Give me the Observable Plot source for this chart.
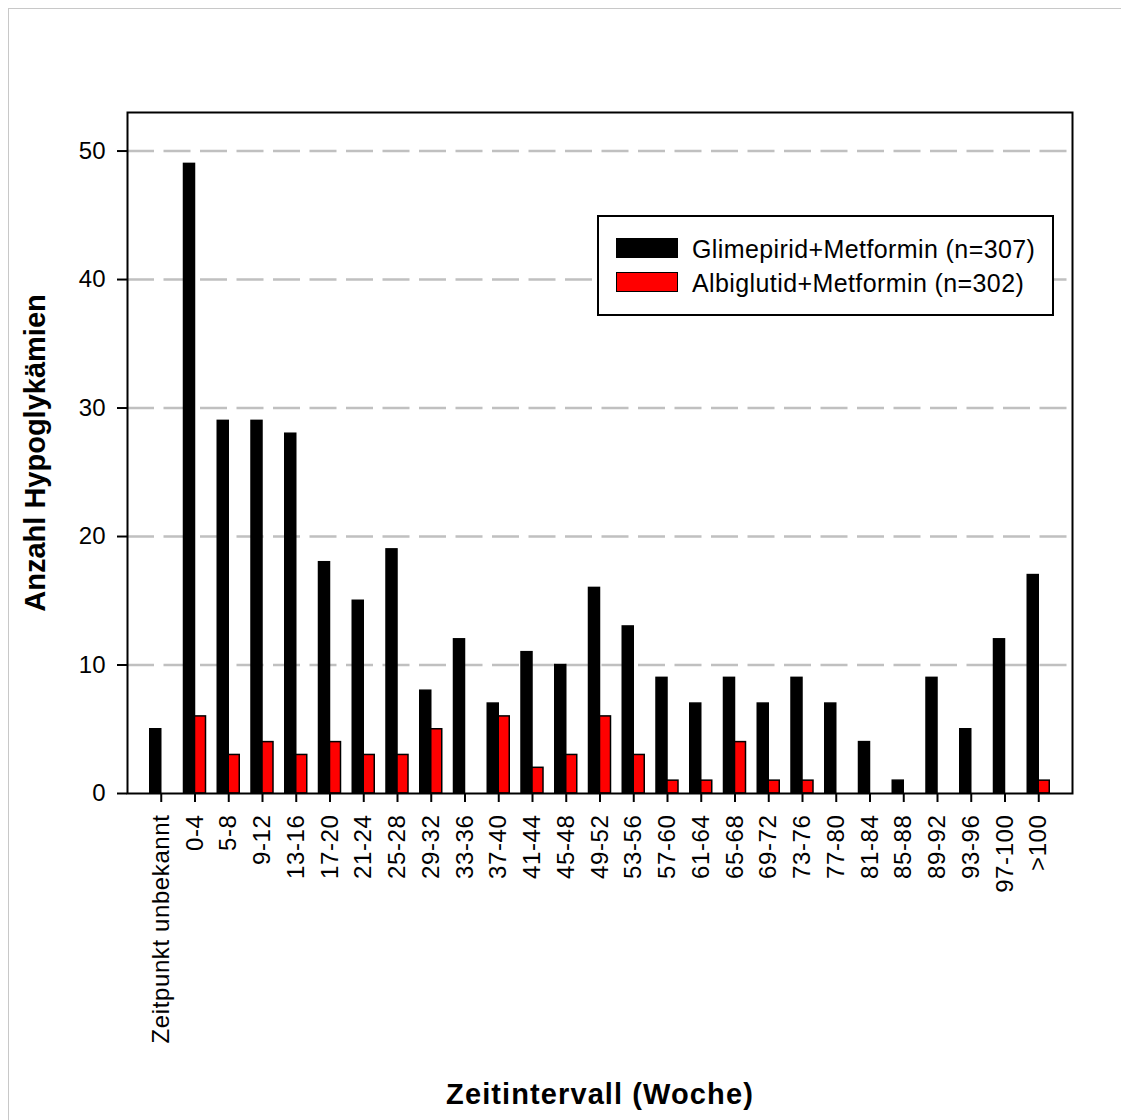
<!DOCTYPE html>
<html>
<head>
<meta charset="utf-8">
<script src="https://cdn.jsdelivr.net/npm/d3@7"></script>
<script src="https://cdn.jsdelivr.net/npm/@observablehq/plot@0.6"></script>
<style>
  html, body { margin: 0; padding: 0; background: #fff; }
  #wrap { position: relative; width: 1121px; height: 1120px; overflow: hidden; font-family: "Liberation Sans", Arial, sans-serif; }
  #wrap svg { position: absolute; left: 0; top: 0; }
  #page-border { position: absolute; left: 8px; top: 8px; right: -2px; bottom: -2px; border-top: 1px solid #c8c8c8; border-left: 1px solid #c8c8c8; pointer-events: none; }
  #legend { position: absolute; left: 597px; top: 215px; width: 457px; height: 101px; box-sizing: border-box; border: 2px solid #000; background: #fff; }
  .sw { position: absolute; left: 17px; width: 62px; height: 20px; box-sizing: border-box; border: 1.5px solid #000; }
  .lab { position: absolute; left: 93px; font-size: 25px; line-height: 25px; letter-spacing: 0.4px; color: #000; white-space: nowrap; }
</style>
</head>
<body>
<div id="wrap">
  <div id="legend"></div>
  <div id="page-border"></div>
</div>
<script>
// Time intervals (weeks) on the x axis
const categories = [
  "Zeitpunkt unbekannt", "0-4", "5-8", "9-12", "13-16", "17-20", "21-24", "25-28",
  "29-32", "33-36", "37-40", "41-44", "45-48", "49-52", "53-56", "57-60", "61-64",
  "65-68", "69-72", "73-76", "77-80", "81-84", "85-88", "89-92", "93-96", "97-100", ">100"
];

// Number of hypoglycaemia events per interval
const glimepiridValues = [5, 49, 29, 29, 28, 18, 15, 19, 8, 12, 7, 11, 10, 16, 13, 9, 7, 9, 7, 9, 7, 4, 1, 9, 5, 12, 17];
const albiglutidValues = [0, 6, 3, 4, 3, 4, 3, 3, 5, 0, 6, 2, 3, 6, 3, 1, 1, 4, 1, 1, 0, 0, 0, 0, 0, 0, 1];

const seriesNames = ["Glimepirid+Metformin (n=307)", "Albiglutid+Metformin (n=302)"];
const seriesColors = ["#000000", "#ff0000"];

const yTicks = [0, 10, 20, 30, 40, 50];
const xTitle = "Zeitintervall (Woche)";
const yTitle = "Anzahl Hypoglykämien";

const rowsFor = (values, s) =>
  categories.map((c, i) => ({interval: c, count: values[i], series: seriesNames[s]}))
            .filter(d => d.count > 0);

const glimepiridRows = rowsFor(glimepiridValues, 0);
const albiglutidRows = rowsFor(albiglutidValues, 1);

const font = "Liberation Sans, Arial, sans-serif";
const barHalf = 33.75 / 2;   // half of one band step
const barWidth = 11;

const chart = Plot.plot({
  width: 1121,
  height: 1120,
  marginLeft: 127,
  marginRight: 49,
  marginTop: 112,
  marginBottom: 327,
  style: {fontFamily: font, color: "#000", background: "transparent", overflow: "visible"},
  x: {type: "band", domain: categories, paddingInner: 0, paddingOuter: 0.5, round: false, label: null},
  y: {domain: [0, 53], label: null},
  marks: [
    Plot.gridY(yTicks.filter(d => d > 0), {stroke: "#c0c0c0", strokeOpacity: 1, strokeWidth: 2.5, strokeDasharray: "27,9.5"}),
    Plot.barY(glimepiridRows, {
      x: "interval", y: "count", fill: seriesColors[0], stroke: "#000", strokeWidth: 1.5,
      insetLeft: barHalf - barWidth, insetRight: barHalf
    }),
    Plot.barY(albiglutidRows, {
      x: "interval", y: "count", fill: seriesColors[1], stroke: "#000", strokeWidth: 1.5,
      insetLeft: barHalf, insetRight: barHalf - barWidth
    }),
    Plot.frame({stroke: "#000", strokeWidth: 2}),
    Plot.axisY({ticks: yTicks, tickSize: 10, tickPadding: 12, fontSize: 24, label: null, strokeWidth: 2}),
    Plot.axisX({tickSize: 9, tickPadding: 12, tickRotate: -90, fontSize: 24, label: null, strokeWidth: 2}),
    Plot.text([xTitle], {
      text: d => d, frameAnchor: "bottom", textAnchor: "middle", lineAnchor: "middle", dy: 301,
      fontSize: 29, fontWeight: "bold", fontFamily: font, fill: "#000"
    }),
    Plot.text([yTitle], {
      text: d => d, frameAnchor: "left", textAnchor: "middle", lineAnchor: "middle", rotate: -90, dx: -92,
      fontSize: 29, fontWeight: "bold", fontFamily: font, fill: "#000"
    })
  ]
});

// slightly looser tracking for the x axis texts
d3.select(chart).selectAll("text")
  .filter(function () { return this.textContent === xTitle; })
  .style("letter-spacing", "1.1px");
d3.select(chart).selectAll('g[aria-label="x-axis tick label"] text').style("letter-spacing", "0.6px");

const wrap = document.getElementById("wrap");
wrap.insertBefore(chart, wrap.firstChild);

// Legend box with one swatch per series
const legend = document.getElementById("legend");
seriesNames.forEach((name, i) => {
  const sw = document.createElement("div");
  sw.className = "sw";
  sw.style.top = (21 + i * 34) + "px";
  sw.style.background = seriesColors[i];
  legend.appendChild(sw);
  const lab = document.createElement("div");
  lab.className = "lab";
  lab.style.top = (19.8 + i * 34) + "px";
  lab.textContent = name;
  legend.appendChild(lab);
});
</script>
</body>
</html>
